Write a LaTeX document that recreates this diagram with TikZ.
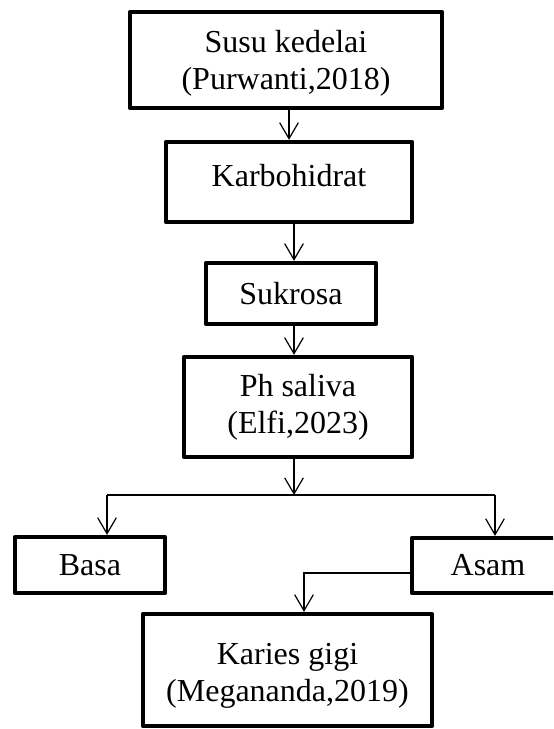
\documentclass[tikz,border=0pt]{standalone}
\usepackage{fontspec}
\setmainfont{Liberation Serif}
\usetikzlibrary{arrows.meta}

\tikzset{
  box/.style={draw, line width=1.6pt, line join=round, align=center, inner sep=2pt,
    font=\fontsize{12}{13.8}\selectfont},
  arr/.style={line width=0.45pt, -{Straight Barb[length=6pt,width=7pt]}},
  link/.style={line width=0.45pt}
}

\begin{document}
\begin{tikzpicture}[x=0.375pt, y=-0.375pt]
    % Page frame
    \clip[use as bounding box] (0,0) rectangle (553,729);

    % Boxes
    \node[box, minimum width=117pt, minimum height=36pt, text height=24.5pt] (susu) at (286,60) {Susu kedelai\\(Purwanti,2018)};
    \node[box, minimum width=92.25pt, minimum height=30pt, text depth=5pt] (karbo) at (289,182) {Karbohidrat};
    \node[box, minimum width=63.75pt, minimum height=22.9pt] (sukrosa) at (291,293.5) {Sukrosa};
    \node[box, minimum width=85.5pt, minimum height=37.5pt] (ph) at (298,407) {Ph saliva\\(Elfi,2023)};
    \node[box, minimum width=56.25pt, minimum height=21pt] (basa) at (90,565) {Basa};
    \node[box, minimum width=57pt, minimum height=20.6pt] (asam) at (488,565.5) {Asam};
    \node[box, minimum width=108.4pt, minimum height=42pt, text height=26pt] (karies) at (287.5,670) {Karies gigi\\(Megananda,2019)};

    % Split points
    \coordinate (split) at (294,495);
    \coordinate (left) at (107,495);
    \coordinate (right) at (495,495);
    \coordinate (turn) at (304,573);

    % Arrows
    \draw[arr] (susu.south -| karbo) -- (karbo.north);
    \draw[arr] (karbo.south -| split) -- (sukrosa.north -| split);
    \draw[arr] (sukrosa.south -| split) -- (ph.north -| split);
    \draw[arr] (ph.south -| split) -- (split);
    \draw[link] (left) -- (right);
    \draw[arr] (left) -- (left |- basa.north);
    \draw[arr] (right) -- (right |- asam.north);
    \draw[arr] (asam.west |- turn) -- (turn) -- (turn |- karies.north);

\end{tikzpicture}
\end{document}
